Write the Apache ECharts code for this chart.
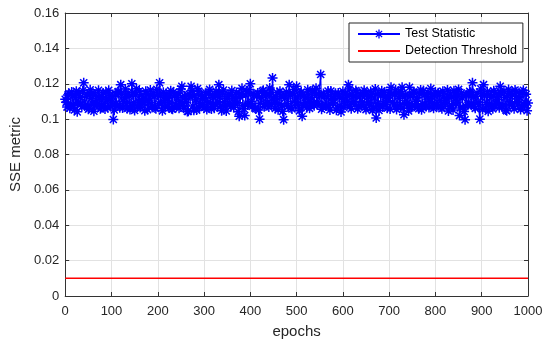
<!DOCTYPE html>
<html>
<head>
<meta charset="utf-8">
<script src="https://cdn.jsdelivr.net/npm/echarts@6/dist/echarts.min.js"></script>
<style>
html,body{margin:0;padding:0;background:#fff;}
#c{width:550px;height:349px;}
</style>
</head>
<body>
<div id="c"></div>
<script>
// Test statistic, epochs 0, 4, 8, ... 1000
var testStatisticA = [
0.1112,0.1068,0.1145,0.1087,0.1131,0.1052,0.1158,0.1094,0.1123,0.1071,
0.1205,0.1083,0.1139,0.1061,0.1118,0.1149,0.1076,0.1102,0.1163,0.1058,
0.1127,0.1089,0.1151,0.1066,0.1134,0.1097,0.0998,0.1142,0.1079,0.1156,
0.1195,0.1063,0.1121,0.1085,0.1147,0.1054,0.1200,0.1092,0.1136,0.1069,
0.1159,0.1081,0.1114,0.1048,0.1143,0.1096,0.1165,0.1073,0.1128,0.1059,
0.1137,0.1205,0.1086,0.1152,0.1067,0.1119,0.1091,0.1161,0.1056,0.1133,
0.1078,0.1146,0.1099,0.1186,0.1062,0.1125,0.1043,0.1141,0.1186,0.1074,
0.1132,0.1051,0.1157,0.1088,0.1115,0.1064,0.1149,0.1093,0.1168,0.1057,
0.1124,0.1082,0.1138,0.1195,0.1071,0.1153,0.1098,0.1046,0.1129,0.1084,
0.1162,0.1066,0.1117,0.1093,0.1016,0.1144,0.1077,0.1020,0.1155,0.1089,
0.1200,0.1072,0.1134,0.1058,0.1147,0.1000,0.1121,0.1163,0.1085,0.1139,
0.1068,0.1152,0.1233,0.1094,0.1126,0.1053,0.1158,0.1079,0.0997,0.1136,
0.1087,0.1195,0.1064,0.1143,0.1101,0.1186,0.1075,0.1148,0.1016,0.1131,
0.1092,0.1166,0.1061,0.1122,0.1083,0.1154,0.1097,0.1140,0.1252,0.1069,
0.1135,0.1078,0.1159,0.1052,0.1118,0.1091,0.1146,0.1063,0.1128,0.1040,
0.1157,0.1086,0.1132,0.1195,0.1074,0.1141,0.1099,0.1162,0.1058,0.1125,
0.1081,0.1149,0.1067,0.1137,0.1095,0.1156,0.1049,0.1119,0.1007,0.1144,
0.1073,0.1160,0.1088,0.1127,0.1062,0.1151,0.1180,0.1096,0.1138,0.1055,
0.1145,0.1084,0.1180,0.1025,0.1133,0.1092,0.1180,0.1066,0.1154,0.1079,
0.1121,0.1059,0.1164,0.1087,0.1139,0.1071,0.1148,0.1097,0.1126,0.1061,
0.1153,0.1082,0.1135,0.1068,0.1158,0.1093,0.1117,0.1046,0.1142,0.1076,
0.1161,0.1089,0.1130,0.1020,0.1147,0.1065,0.0997,0.1138,0.1084,0.1152,
0.1205,0.1072,0.1129,0.1094,0.1000,0.1143,0.1195,0.1063,0.1156,0.1081,
0.1124,0.1058,0.1149,0.1090,0.1137,0.1186,0.1069,0.1159,0.1052,0.1133,
0.1086,0.1146,0.1074,0.1165,0.1098,0.1127,0.1055,0.1151,0.1079,0.1140,
0.1091
];
// Test statistic, epochs 2, 6, 10, ... 998
var testStatisticB = [
0.1095,0.1137,0.1062,0.1153,0.1079,0.1121,0.1041,0.1144,0.1086,0.1160,
0.1074,0.1128,0.1056,0.1166,0.1091,0.1045,0.1135,0.1083,0.1119,0.1069,
0.1148,0.1057,0.1110,0.1163,0.1071,0.1126,0.1052,0.1089,0.1155,0.1065,
0.1140,0.1098,0.1171,0.1060,0.1129,0.1077,0.1150,0.1049,0.1172,0.1103,
0.1066,0.1138,0.1092,0.1157,0.1054,0.1120,0.1080,0.1147,0.1063,0.1169,
0.1090,0.1134,0.1047,0.1106,0.1145,0.1073,0.1131,0.1058,0.1152,0.1085,
0.1123,0.1061,0.1170,0.1079,0.1132,0.1095,0.1044,0.1127,0.1160,0.1050,
0.1108,0.1173,0.1067,0.1139,0.1081,0.1124,0.1055,0.1146,0.1090,0.1133,
0.1062,0.1158,0.1096,0.1127,0.1048,0.1165,0.1075,0.1118,0.1141,0.1070,
0.1130,0.1088,0.1150,0.1042,0.1124,0.1174,0.1059,0.1136,0.1080,0.1167,
0.1100,0.1144,0.1063,0.1129,0.1051,0.1090,0.1157,0.1070,0.1138,0.1096,
0.1176,0.1082,0.1120,0.1060,0.1149,0.1087,0.1131,0.1044,0.1116,0.1154,
0.1071,0.1135,0.1057,0.1168,0.1092,0.1125,0.1047,0.1153,0.1080,0.1120,
0.1064,0.1139,0.1098,0.1161,0.1076,0.1175,0.1088,0.1132,0.1056,0.1145,
0.1084,0.1126,0.1067,0.1159,0.1093,0.1130,0.1050,0.1147,0.1074,0.1118,
0.1066,0.1141,0.1102,0.1170,0.1059,0.1128,0.1083,0.1154,0.1071,0.1136,
0.1097,0.1163,0.1054,0.1125,0.1078,0.1140,0.1062,0.1171,0.1087,0.1049,
0.1133,0.1068,0.1150,0.1095,0.1121,0.1057,0.1143,0.1080,0.1166,0.1072,
0.1118,0.1158,0.1061,0.1137,0.1090,0.1046,0.1129,0.1075,0.1152,0.1099,
0.1070,0.1144,0.1053,0.1162,0.1085,0.1127,0.1066,0.1173,0.1091,0.1134,
0.1077,0.1149,0.1104,0.1059,0.1131,0.1087,0.1164,0.1070,0.1123,0.1052,
0.1142,0.1096,0.1168,0.1063,0.1119,0.1043,0.1135,0.1078,0.1157,0.1089,
0.1126,0.1061,0.1148,0.1083,0.1171,0.1055,0.1132,0.1094,0.1044,0.1139,
0.1073,0.1160,0.1090,0.1128,0.1065,0.1150,0.1081,0.1122,0.1047,0.1167,
0.1098,0.1136,0.1058,0.1155,0.1086,0.1121,0.1069,0.1163,0.1093,0.1048
];
var epochStepA = 4, epochOffsetB = 2;
var detectionThreshold = 0.01;
var xRange = [0, 1000];
var yRange = [0, 0.16];
var seriesNames = ['Test Statistic', 'Detection Threshold'];

var testData = [];
testStatisticA.forEach(function (v, i) {
  testData.push([i * epochStepA, v]);
  if (i < testStatisticB.length) testData.push([i * epochStepA + epochOffsetB, testStatisticB[i]]);
});
var thrData = [[xRange[0], detectionThreshold], [xRange[1], detectionThreshold]];

var asterisk = 'path://M-1.5,-10L1.5,-10L1.5,10L-1.5,10Z M-10,-1.5L10,-1.5L10,1.5L-10,1.5Z ' +
  'M-6.01,-8.13L8.13,6.01L6.01,8.13L-8.13,-6.01Z M-8.13,6.01L6.01,-8.13L8.13,-6.01L-6.01,8.13Z';

var axisColor = '#333333';
var gridColor = '#e2e2e2';
var font = 'Liberation Sans, Arial, sans-serif';

var chart = echarts.init(document.getElementById('c'), null, {renderer: 'canvas'});
chart.setOption({
  animation: false,
  backgroundColor: '#ffffff',
  grid: {left: 58, right: 22, top: 13, bottom: 53, containLabel: false},
  legend: {
    orient: 'vertical',
    left: 349, top: 23,
    padding: [2.5, 6, 2.5, 8],
    itemGap: 0,
    itemWidth: 42, itemHeight: 11,
    backgroundColor: '#ffffff',
    borderColor: '#262626', borderWidth: 1, borderRadius: 0,
    textStyle: {fontFamily: font, fontSize: 12.5, color: '#000', lineHeight: 17},
    data: [
      {name: seriesNames[0]},
      {name: seriesNames[1], itemStyle: {opacity: 0}}
    ]
  },
  xAxis: [{
    type: 'value', min: xRange[0], max: xRange[1], interval: 100,
    name: 'epochs', nameLocation: 'middle', nameGap: 28,
    nameTextStyle: {fontFamily: font, fontSize: 15, color: '#262626'},
    axisLine: {show: true, lineStyle: {color: axisColor, width: 1}},
    axisTick: {show: true, inside: true, length: 4, lineStyle: {color: axisColor}},
    axisLabel: {fontFamily: font, fontSize: 13, color: '#262626', margin: 9,
      formatter: function (v) { return String(v); }},
    splitLine: {show: true, lineStyle: {color: gridColor, width: 1}}
  }, {
    type: 'value', position: 'top', min: xRange[0], max: xRange[1], interval: 100,
    axisLine: {show: true, onZero: false, lineStyle: {color: axisColor, width: 1}},
    axisTick: {show: true, inside: true, length: 4, lineStyle: {color: axisColor}},
    axisLabel: {show: false}, splitLine: {show: false}
  }],
  yAxis: [{
    type: 'value', min: yRange[0], max: yRange[1], interval: 0.02,
    name: 'SSE metric', nameLocation: 'middle', nameGap: 36,
    nameTextStyle: {fontFamily: font, fontSize: 15, color: '#262626'},
    axisLine: {show: true, lineStyle: {color: axisColor, width: 1}},
    axisTick: {show: true, inside: true, length: 4, lineStyle: {color: axisColor}},
    axisLabel: {fontFamily: font, fontSize: 13, color: '#262626', margin: 6,
      formatter: function (v) { return String(parseFloat(v.toFixed(2))); }},
    splitLine: {show: true, lineStyle: {color: gridColor, width: 1}}
  }, {
    type: 'value', position: 'right', min: yRange[0], max: yRange[1], interval: 0.02,
    axisLine: {show: true, onZero: false, lineStyle: {color: axisColor, width: 1}},
    axisTick: {show: true, inside: true, length: 4, lineStyle: {color: axisColor}},
    axisLabel: {show: false}, splitLine: {show: false}
  }],
  series: [{
    name: seriesNames[0], type: 'line', data: testData,
    xAxisIndex: 0, yAxisIndex: 0,
    symbol: asterisk, symbolSize: 10, showAllSymbol: true,
    lineStyle: {color: '#0000ff', width: 1.2},
    itemStyle: {color: '#0000ff'},
    emphasis: {disabled: true}
  }, {
    name: seriesNames[1], type: 'line', data: thrData,
    xAxisIndex: 0, yAxisIndex: 0,
    symbol: 'none', showSymbol: false,
    lineStyle: {color: '#ff0000', width: 1.5},
    itemStyle: {color: '#ff0000'},
    emphasis: {disabled: true}
  }]
});
</script>
</body>
</html>
